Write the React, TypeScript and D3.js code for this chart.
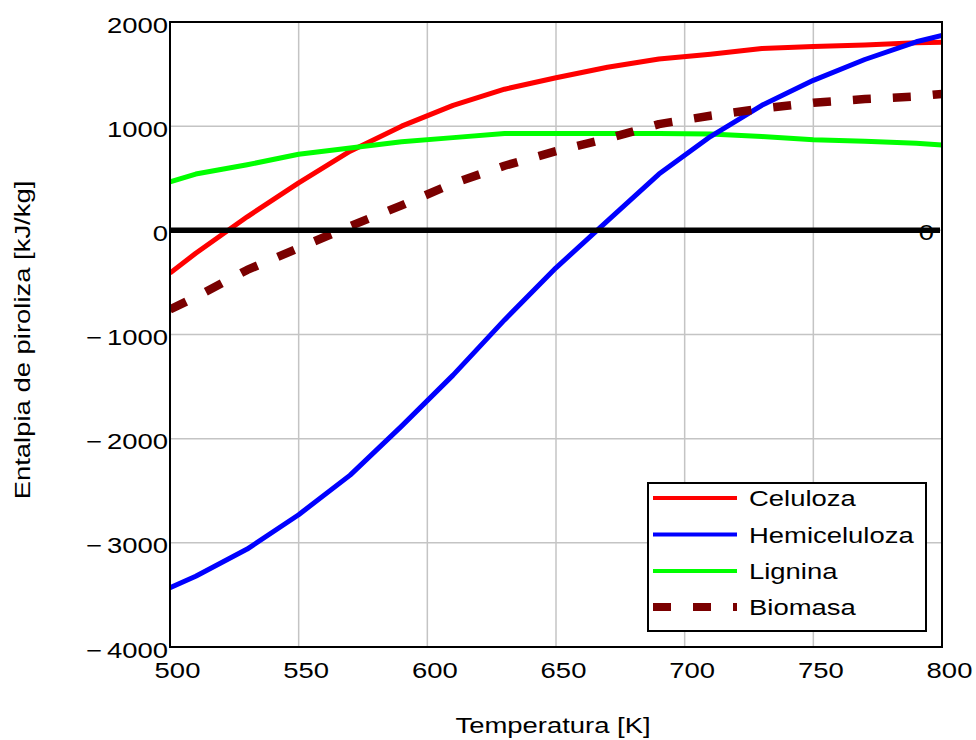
import React from "react";
import * as d3 from "d3";

const temps = [500, 510, 530, 550, 570, 590, 610, 630, 650, 670, 690, 710, 730, 750, 770, 790, 800];
const celuloza = [-410, -220, 130, 455, 760, 1000, 1200, 1355, 1465, 1565, 1645, 1690, 1745, 1765, 1780, 1800, 1805];
const hemiceluloza = [-3430, -3320, -3060, -2730, -2350, -1880, -1390, -860, -360, 90, 540, 900, 1200, 1440, 1640, 1810, 1870];
const lignina = [465, 540, 630, 730, 790, 850, 890, 930, 930, 930, 930, 925, 900, 870, 855, 835, 820];
const biomasa = [-760, -640, -380, -170, 40, 240, 450, 620, 760, 880, 1020, 1100, 1170, 1225, 1260, 1285, 1310];

const xTicks = [500, 550, 600, 650, 700, 750, 800];
const yTicks = [2000, 1000, 0, -1000, -2000, -3000, -4000];
const seriesNames = ["Celuloza", "Hemiceluloza", "Lignina", "Biomasa"];
const xTitle = "Temperatura [K]";
const yTitle = "Entalpia de piroliza [kJ/kg]";

const W = 976, H = 740;
const L = 170, R = 942, T = 22, B = 647;
const FONT = "'Liberation Sans', Arial, sans-serif";
const FS = 22.5;
const SX = 1.22;

function SText({ x, y, anchor = "start", rotate = 0, children, size = FS }: any) {
  return (
    <text
      transform={`translate(${x},${y}) rotate(${rotate}) scale(${SX},1)`}
      textAnchor={anchor}
      fontFamily={FONT}
      fontSize={size}
      fill="#000"
    >
      {children}
    </text>
  );
}

export default function App() {
  const x = d3.scaleLinear().domain([500, 800]).range([L, R]);
  const y = d3.scaleLinear().domain([-4000, 2000]).range([B, T]);

  const series = [
    { name: seriesNames[0], values: celuloza, color: "#ff0000", width: 5, dash: null },
    { name: seriesNames[2], values: lignina, color: "#00ff00", width: 5, dash: null },
    { name: seriesNames[1], values: hemiceluloza, color: "#0000ff", width: 5, dash: null },
    { name: seriesNames[3], values: biomasa, color: "#7a0000", width: 8.5, dash: "18 22" },
  ];
  const legendOrder = [
    { name: seriesNames[0], color: "#ff0000", width: 4, dash: null },
    { name: seriesNames[1], color: "#0000ff", width: 4, dash: null },
    { name: seriesNames[2], color: "#00ff00", width: 4, dash: null },
    { name: seriesNames[3], color: "#7a0000", width: 8, dash: "18 22" },
  ];

  const line = (vals: number[]) =>
    d3
      .line<number>()
      .x((_, i) => x(temps[i]))
      .y((v) => y(v))(vals) as string;

  const lgX = 648, lgY = 483, lgW = 278, lgH = 148;
  const rowY = [498, 534.5, 571, 607];

  return (
    <svg
      width={W}
      height={H}
      style={{ position: "absolute", left: 0, top: 0, display: "block", background: "#fff" }}
    >
      <rect x={0} y={0} width={W} height={H} fill="#fff" />
      {xTicks.slice(1, -1).map((t) => (
        <line key={"gx" + t} x1={x(t)} x2={x(t)} y1={T} y2={B} stroke="#c4c4c4" strokeWidth={1.5} />
      ))}
      {yTicks.slice(1, -1).map((t) => (
        <line key={"gy" + t} x1={L} x2={R} y1={y(t)} y2={y(t)} stroke="#c4c4c4" strokeWidth={1.5} />
      ))}
      <defs>
        <clipPath id="plotclip">
          <rect x={L} y={T} width={R - L} height={B - T} />
        </clipPath>
      </defs>
      <g clipPath="url(#plotclip)">
        {series.map((s) => (
          <path
            key={s.name}
            d={line(s.values)}
            fill="none"
            stroke={s.color}
            strokeWidth={s.width}
            strokeDasharray={s.dash || undefined}
            strokeLinejoin="round"
          />
        ))}
      </g>
      <line x1={L} x2={R - 2} y1={y(0)} y2={y(0)} stroke="#000" strokeWidth={5.5} />
      <SText x={934} y={y(0) + 10} anchor="end">0</SText>
      <rect x={L} y={T} width={R - L} height={B - T} fill="none" stroke="#000" strokeWidth={2} />
      {yTicks.map((t) => (
        <g key={"yl" + t}>
          <SText x={168} y={y(t) + 10.5} anchor="end">{String(Math.abs(t))}</SText>
          {t < 0 && <SText x={94} y={y(t) + 10.5} anchor="middle">{"\u2212"}</SText>}
        </g>
      ))}
      {xTicks.map((t) => (
        <SText key={"xl" + t} x={x(t) + 7.5} y={678} anchor="middle">{String(t)}</SText>
      ))}
      <SText x={553} y={733} anchor="middle">{xTitle}</SText>
      <SText x={30} y={340} anchor="middle" rotate={-90}>{yTitle}</SText>
      <rect x={lgX} y={lgY} width={lgW} height={lgH} fill="#fff" stroke="#000" strokeWidth={2} />
      {legendOrder.map((s, i) => (
        <g key={"lg" + s.name}>
          <line
            x1={653}
            x2={737}
            y1={rowY[i]}
            y2={rowY[i]}
            stroke={s.color}
            strokeWidth={s.width}
            strokeDasharray={s.dash || undefined}
          />
          <SText x={749} y={rowY[i] + 8}>{s.name}</SText>
        </g>
      ))}
    </svg>
  );
}
